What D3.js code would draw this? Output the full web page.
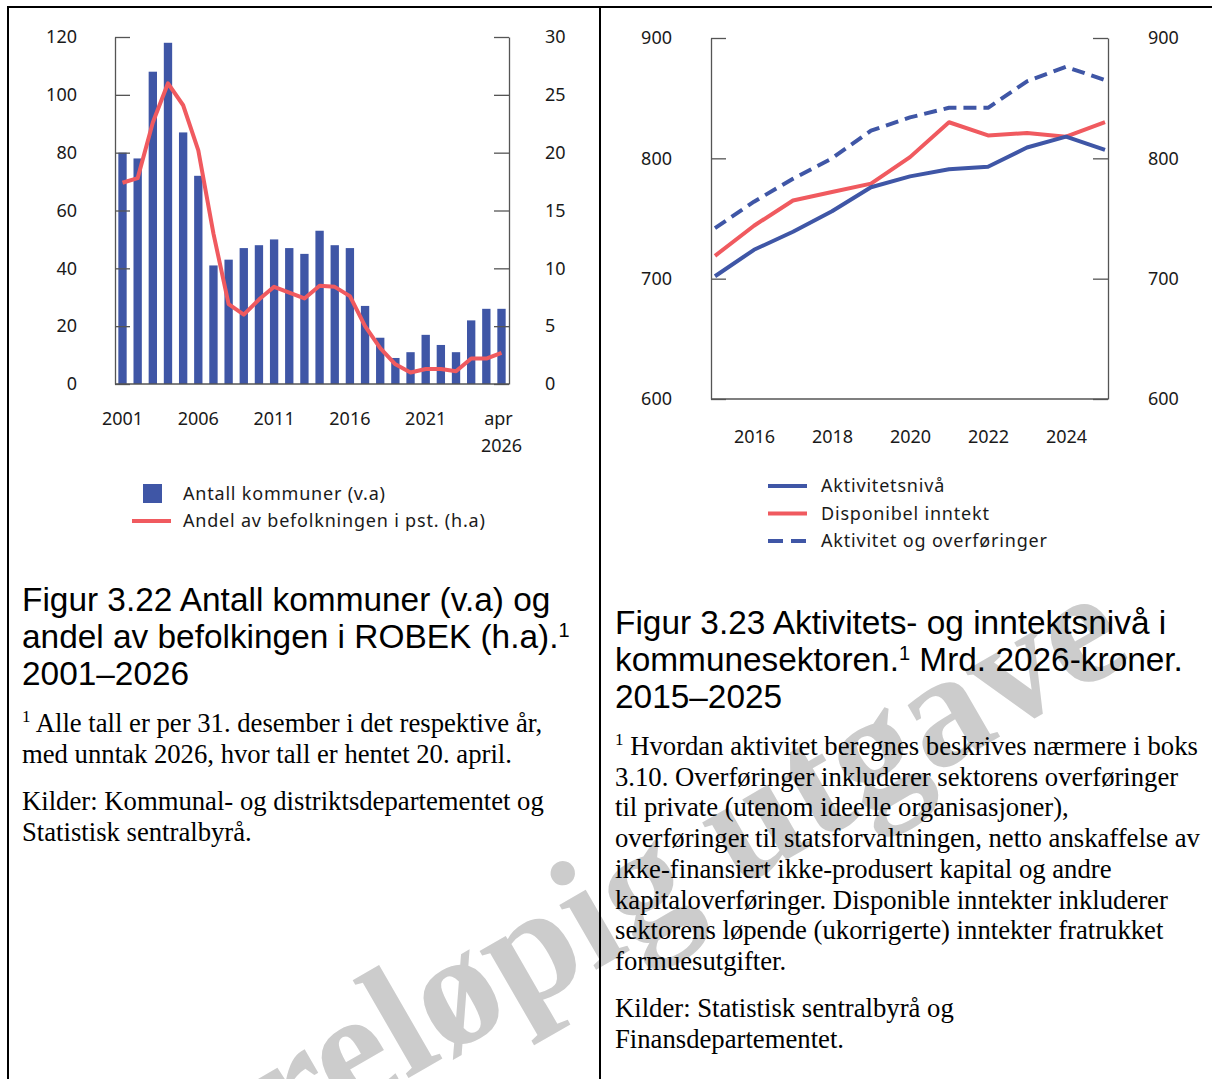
<!DOCTYPE html>
<html>
<head>
<meta charset="utf-8">
<script src="https://cdn.jsdelivr.net/npm/d3@7"></script>
<style>
  body { margin: 0; background: #fff; }
  .axis text { font-family: "Noto Sans", sans-serif; font-size: 18px; fill: #1a1a1a; }
  .axis path, .axis line { stroke: #555; stroke-width: 1.3; }
  .legend text { font-family: "Noto Sans", sans-serif; font-size: 18px; letter-spacing: 0.8px; fill: #1a1a1a; }
  .title { font-family: "Liberation Sans", Arial, sans-serif; font-size: 33.4px; fill: #000; }
  .note { font-family: "Liberation Serif", "Times New Roman", serif; font-size: 26.7px; fill: #000; }
</style>
</head>
<body>
<div id="page"></div>
<script>
// figur 3.22
const robekYears = d3.range(2001, 2027);
const robekKommuner = [80, 78, 108, 118, 87, 72, 41, 43, 47, 48, 50, 47, 45, 53, 48, 47, 27, 16, 9, 11, 17, 13.5, 11, 22, 26, 26];
const robekAndel = [17.4, 17.8, 22.6, 26.0, 24.1, 20.2, 13.0, 6.9, 6.0, 7.3, 8.4, 7.9, 7.4, 8.5, 8.4, 7.6, 5.0, 3.1, 1.7, 1.0, 1.3, 1.3, 1.1, 2.2, 2.2, 2.7];
const robekLeftTicks = [0, 20, 40, 60, 80, 100, 120];
const robekRightTicks = [0, 5, 10, 15, 20, 25, 30];
const robekXTicks = [2001, 2006, 2011, 2016, 2021, 2026];

// figur 3.23
const sektorYears = d3.range(2015, 2026);
const aktivitetsniva = [702, 724, 739, 756, 776, 785, 791, 793, 809, 818, 807];
const disponibelInntekt = [719, 744, 765, 772, 779, 801, 830, 819, 821, 818, 830];
const aktivitetOverforinger = [742, 764, 783, 800, 823, 834, 842, 842, 864, 876, 865];
const sektorYTicks = [600, 700, 800, 900];
const sektorXTicks = [2016, 2018, 2020, 2022, 2024];

const blue = "#3f56a6";
const red = "#f05a5f";

let width = 1212;
let height = 1079;

let svg = d3.select("#page")
    .append("svg")
    .attr("width", width)
    .attr("height", height);

// watermark
svg.append("text")
    .attr("transform", "translate(128,1240) rotate(-30)")
    .attr("font-family", "Liberation Serif, Times New Roman, serif")
    .attr("font-weight", "bold")
    .attr("font-size", "162px")
    .attr("fill", "#cccccc")
    .text("Foreløpig utgave");

// frame
svg.append("line").attr("x1", 7).attr("x2", 1212).attr("y1", 7).attr("y2", 7).attr("stroke", "#000").attr("stroke-width", 2);
svg.append("line").attr("x1", 8).attr("x2", 8).attr("y1", 6).attr("y2", 1079).attr("stroke", "#000").attr("stroke-width", 2);
svg.append("line").attr("x1", 600).attr("x2", 600).attr("y1", 6).attr("y2", 1079).attr("stroke", "#000").attr("stroke-width", 2);

//---------------- left chart
let x1 = d3.scaleBand()
    .domain(robekYears)
    .range([115, 509])
    .paddingInner(0.45)
    .paddingOuter(0.22);

let yLeft = d3.scaleLinear().domain([0, 120]).range([384, 37]);
let yRight = d3.scaleLinear().domain([0, 30]).range([384, 37]);

svg.selectAll(".bar")
    .data(robekYears)
    .enter()
    .append("rect")
    .attr("class", "bar")
    .attr("x", d => x1(d))
    .attr("width", x1.bandwidth())
    .attr("y", (d, i) => yLeft(robekKommuner[i]))
    .attr("height", (d, i) => yLeft(0) - yLeft(robekKommuner[i]))
    .attr("fill", blue);

let andelLine = d3.line()
    .x((d, i) => x1(robekYears[i]) + x1.bandwidth() / 2)
    .y(d => yRight(d));

svg.append("path")
    .datum(robekAndel)
    .attr("d", andelLine)
    .attr("fill", "none")
    .attr("stroke", red)
    .attr("stroke-width", 4)
    .attr("stroke-linejoin", "round");

svg.append("g")
    .attr("class", "axis")
    .attr("transform", "translate(115,0)")
    .call(d3.axisLeft(yLeft).tickValues(robekLeftTicks).tickSizeInner(-15).tickSizeOuter(0).tickPadding(38));

svg.append("g")
    .attr("class", "axis")
    .attr("transform", "translate(509,0)")
    .call(d3.axisRight(yRight).tickValues(robekRightTicks).tickSizeInner(-15).tickSizeOuter(0).tickPadding(36));

let xAxis1 = svg.append("g")
    .attr("class", "axis")
    .attr("transform", "translate(0,384)")
    .call(d3.axisBottom(x1).tickValues(robekXTicks).tickSize(0).tickPadding(28).tickFormat(d3.format("d")));
xAxis1.select(".domain").attr("d", "M115,0H509");
xAxis1.selectAll(".tick text")
    .filter(d => d === 2026)
    .text(null)
    .call(t => {
        t.append("tspan").attr("x", -3).text("apr");
        t.append("tspan").attr("x", 0).attr("dy", "1.5em").text("2026");
    });

// legend left
let leg1 = svg.append("g").attr("class", "legend");
leg1.append("rect").attr("x", 143).attr("y", 484).attr("width", 19).attr("height", 19).attr("fill", blue);
leg1.append("line").attr("x1", 132).attr("x2", 171).attr("y1", 521).attr("y2", 521).attr("stroke", red).attr("stroke-width", 4);
leg1.append("text").attr("x", 183).attr("y", 500).text("Antall kommuner (v.a)");
leg1.append("text").attr("x", 183).attr("y", 527).text("Andel av befolkningen i pst. (h.a)");

//---------------- right chart
let x2 = d3.scaleLinear().domain([2015, 2025]).range([715, 1105]);
let y2 = d3.scaleLinear().domain([600, 900]).range([399, 38]);

let sektorLine = d3.line()
    .x((d, i) => x2(sektorYears[i]))
    .y(d => y2(d));

let series = [
    { values: aktivitetOverforinger, color: blue, dash: "13,7" },
    { values: disponibelInntekt, color: red, dash: null },
    { values: aktivitetsniva, color: blue, dash: null }
];

series.forEach(s => {
    svg.append("path")
        .datum(s.values)
        .attr("d", sektorLine)
        .attr("fill", "none")
        .attr("stroke", s.color)
        .attr("stroke-width", 4)
        .attr("stroke-linejoin", "round")
        .attr("stroke-dasharray", s.dash);
});

svg.append("g")
    .attr("class", "axis")
    .attr("transform", "translate(711,0)")
    .call(d3.axisLeft(y2).tickValues(sektorYTicks).tickSizeInner(-15).tickSizeOuter(0).tickPadding(39));

svg.append("g")
    .attr("class", "axis")
    .attr("transform", "translate(1108,0)")
    .call(d3.axisRight(y2).tickValues(sektorYTicks).tickSizeInner(-15).tickSizeOuter(0).tickPadding(40));

let xAxis2 = svg.append("g")
    .attr("class", "axis")
    .attr("transform", "translate(0,399)")
    .call(d3.axisBottom(x2).tickValues(sektorXTicks).tickSize(0).tickPadding(31).tickFormat(d3.format("d")));
xAxis2.select(".domain").attr("d", "M711,0H1108");

// legend right
let legendItems = ["Aktivitetsnivå", "Disponibel inntekt", "Aktivitet og overføringer"];
let leg2 = svg.append("g").attr("class", "legend");
legendItems.forEach((name, i) => {
    let s = series[[2, 1, 0][i]];
    let y = 486 + i * 27.5;
    leg2.append("line").attr("x1", 768).attr("x2", 807).attr("y1", y).attr("y2", y)
        .attr("stroke", s.color).attr("stroke-width", 4).attr("stroke-dasharray", s.dash ? "15,8" : null);
    leg2.append("text").attr("x", 821).attr("y", y + 6).text(name);
});

//---------------- titles and notes
function title(x, y, parts) {
    let t = svg.append("text").attr("class", "title").attr("x", x).attr("y", y);
    parts.forEach(p => {
        t.append("tspan").text(p.text)
            .attr("baseline-shift", p.sup ? "super" : null)
            .attr("font-size", p.sup ? "20px" : null);
    });
}

title(22, 611, [{ text: "Figur 3.22 Antall kommuner (v.a) og" }]);
title(22, 648, [{ text: "andel av befolkingen i ROBEK (h.a)." }, { text: "1", sup: true }]);
title(22, 685, [{ text: "2001–2026" }]);

title(615, 634, [{ text: "Figur 3.23 Aktivitets- og inntektsnivå i" }]);
title(615, 671, [{ text: "kommunesektoren." }, { text: "1", sup: true }, { text: " Mrd. 2026-kroner." }]);
title(615, 708, [{ text: "2015–2025" }]);

function note(x, y, lineH, lines) {
    lines.forEach((line, i) => {
        let t = svg.append("text").attr("class", "note").attr("x", x).attr("y", y + i * lineH);
        if (line.startsWith("1 ")) {
            t.append("tspan").text("1").attr("font-size", "17px").attr("dy", -10);
            t.append("tspan").text(" " + line.slice(2)).attr("dy", 10);
        } else {
            t.text(line);
        }
    });
}

note(22, 732, 31, [
    "1 Alle tall er per 31. desember i det respektive år,",
    "med unntak 2026, hvor tall er hentet 20. april."
]);
note(22, 810, 30.5, [
    "Kilder: Kommunal- og distriktsdepartementet og",
    "Statistisk sentralbyrå."
]);

note(615, 755, 30.7, [
    "1 Hvordan aktivitet beregnes beskrives nærmere i boks",
    "3.10. Overføringer inkluderer sektorens overføringer",
    "til private (utenom ideelle organisasjoner),",
    "overføringer til statsforvaltningen, netto anskaffelse av",
    "ikke-finansiert ikke-produsert kapital og andre",
    "kapitaloverføringer. Disponible inntekter inkluderer",
    "sektorens løpende (ukorrigerte) inntekter fratrukket",
    "formuesutgifter."
]);
note(615, 1017, 30.5, [
    "Kilder: Statistisk sentralbyrå og",
    "Finansdepartementet."
]);
</script>
</body>
</html>
